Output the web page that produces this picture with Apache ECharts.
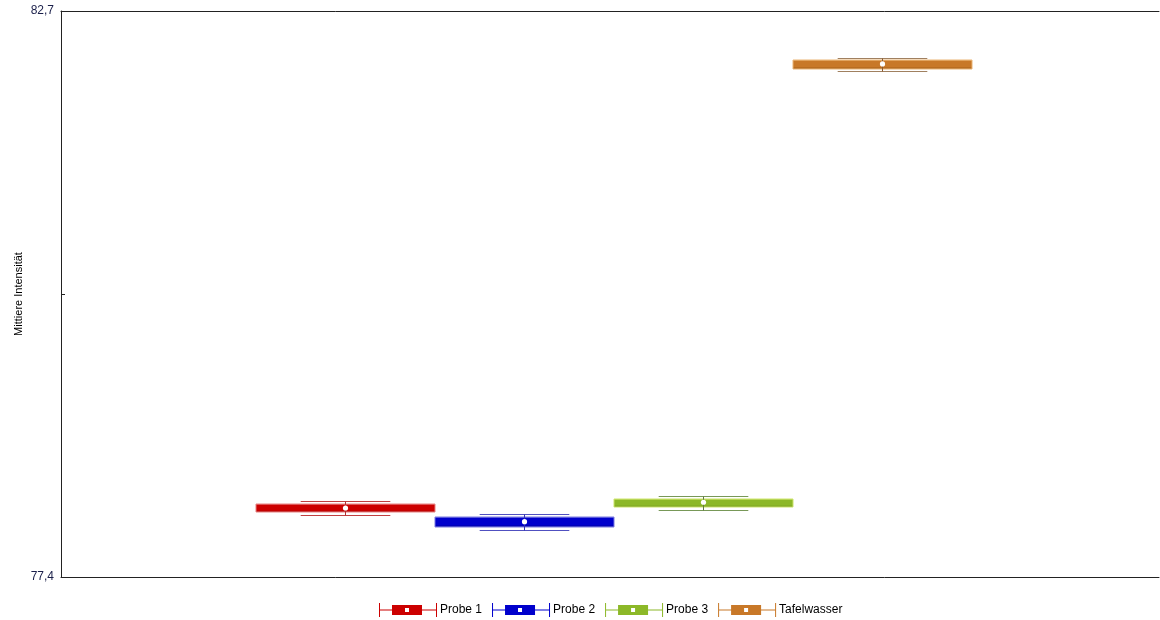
<!DOCTYPE html>
<html>
<head>
<meta charset="utf-8">
<script src="https://cdn.jsdelivr.net/npm/echarts@6/dist/echarts.min.js"></script>
<style>html,body{margin:0;padding:0;background:#fff}#c{width:1160px;height:620px}</style>
</head>
<body>
<div id="c"></div>
<script>
const seriesNames = ['Probe 1', 'Probe 2', 'Probe 3', 'Tafelwasser'];
const whiskerLow  = [77.978, 77.843, 78.031, 82.135];
const quartile1   = [78.006, 77.868, 78.059, 82.157];
const quartile3   = [78.081, 77.959, 78.128, 82.241];
const whiskerHigh = [78.109, 77.990, 78.162, 82.257];
const means       = [78.046, 77.918, 78.100, 82.204];
const yMin = 77.4, yMax = 82.7, yStep = 2.65;

const palette = [
  {main:'#cc0000', light:'#e88080', dark:'#a80000', cap:'#c04040', stem:'#b03030'},
  {main:'#0000cc', light:'#7878e0', dark:'#0000a8', cap:'#5050c0', stem:'#3030b0'},
  {main:'#8cb828', light:'#cce46a', dark:'#6e9418', cap:'#789858', stem:'#607840'},
  {main:'#c87828', light:'#eab474', dark:'#a05a14', cap:'#a08060', stem:'#8a5a30'}
];

const legendIcon = 'path://M0 0L1 0L1 14L0 14Z M1 6.5L13 6.5L13 7.5L1 7.5Z M13 2L43 2L43 12L13 12Z M26 5L26 9L30 9L30 5Z M43 6.5L57 6.5L57 7.5L43 7.5Z M57 0L58 0L58 14L57 14Z';

function renderItem(params, api) {
  const si = params.seriesIndex;
  const p = palette[si];
  const low = api.value(1), q1 = api.value(2), q3 = api.value(3), high = api.value(4), mean = api.value(5);
  const bw = api.size([1, 0])[0];
  const boxW = bw * 0.1633;
  const c0 = api.coord([0, mean])[0];
  const cx = Math.round(c0 + 3.5 + (si - 1.5) * boxW) + 0.5;
  const yL = Math.round(api.coord([0, low])[1]) + 0.5;
  const y1 = Math.round(api.coord([0, q1])[1]);
  const y3 = Math.round(api.coord([0, q3])[1]);
  const yH = Math.round(api.coord([0, high])[1]) + 0.5;
  const yM = api.coord([0, mean])[1];
  const x0 = Math.round(cx - boxW / 2);
  const grad = new echarts.graphic.LinearGradient(0, 0, 0, 1, [
    {offset: 0, color: p.light},
    {offset: 0.18, color: p.main},
    {offset: 0.75, color: p.main},
    {offset: 0.88, color: p.dark},
    {offset: 1, color: p.light}
  ]);
  return {
    type: 'group',
    children: [
      {type: 'line', shape: {x1: cx - boxW / 4, y1: yH, x2: cx + boxW / 4, y2: yH}, style: {stroke: p.cap, lineWidth: 1}},
      {type: 'line', shape: {x1: cx - boxW / 4, y1: yL, x2: cx + boxW / 4, y2: yL}, style: {stroke: p.cap, lineWidth: 1}},
      {type: 'rect', shape: {x: x0, y: y3, width: Math.round(boxW), height: y1 - y3}, style: {fill: grad, stroke: p.light, lineWidth: 1}},
      {type: 'line', shape: {x1: cx, y1: yH, x2: cx, y2: yL}, style: {stroke: p.stem, lineWidth: 1}},
      {type: 'circle', shape: {cx: cx, cy: yM, r: 2.6}, style: {fill: '#ffffff'}}
    ]
  };
}

const series = seriesNames.map((name, i) => ({
  name: name,
  type: 'custom',
  renderItem: renderItem,
  itemStyle: {color: palette[i].main},
  encode: {x: 0, y: [1, 2, 3, 4, 5]},
  data: [[0, whiskerLow[i], quartile1[i], quartile3[i], whiskerHigh[i], means[i]]],
  z: 3
}));

const chart = echarts.init(document.getElementById('c'), null, {renderer: 'canvas'});
chart.setOption({
  animation: false,
  textStyle: {fontFamily: 'Liberation Sans'},
  grid: {left: 61, right: 1, top: 11, bottom: 43, containLabel: false},
  legend: {
    left: 379, top: 603, padding: 0,
    itemWidth: 58, itemHeight: 14, itemGap: 10,
    icon: legendIcon,
    textStyle: {fontFamily: 'Liberation Sans', fontSize: 12, color: '#000', padding: [0, 0, 0, -2]},
    data: seriesNames
  },
  xAxis: [
    {type: 'category', data: [''], position: 'bottom',
     axisLine: {show: true, lineStyle: {color: '#222', width: 1}},
     axisTick: {show: false}, axisLabel: {show: false}, splitLine: {show: false}},
    {type: 'category', data: [''], position: 'top',
     axisLine: {show: true, lineStyle: {color: '#222', width: 1}},
     axisTick: {show: false}, axisLabel: {show: false}, splitLine: {show: false}}
  ],
  yAxis: {
    type: 'value', min: yMin, max: yMax, interval: yStep,
    name: 'Mittiere Intensität', nameLocation: 'middle', nameGap: 37, nameMoveOverlap: false,
    nameTextStyle: {fontFamily: 'Liberation Sans', fontSize: 11, color: '#000'},
    axisLine: {show: true, lineStyle: {color: '#222', width: 1}},
    axisTick: {show: true, inside: true, length: 4, lineStyle: {color: '#222'}},
    splitLine: {show: false},
    axisLabel: {
      fontFamily: 'Liberation Sans', fontSize: 12, color: '#1a1f4a', margin: 7,
      formatter: v => (Math.abs(v - yMin) < 1e-6 || Math.abs(v - yMax) < 1e-6) ? v.toFixed(1).replace('.', ',') : ''
    }
  },
  series: series
});
</script>
</body>
</html>
